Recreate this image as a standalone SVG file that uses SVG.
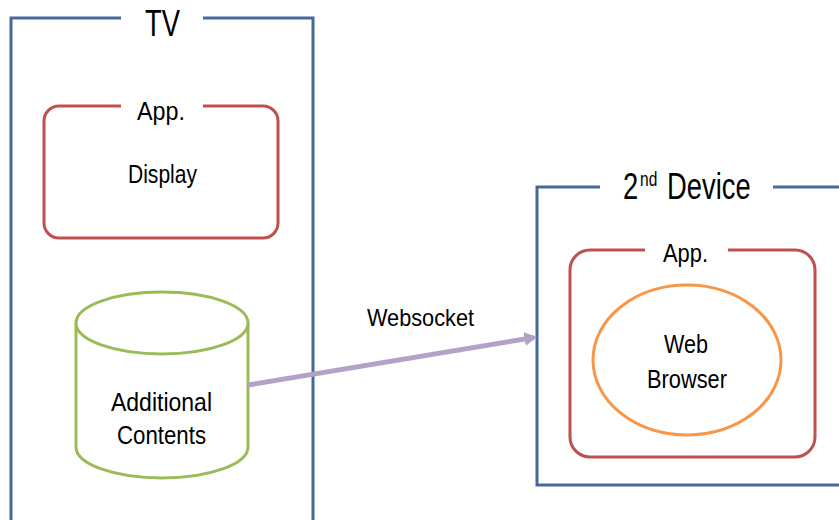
<svg xmlns="http://www.w3.org/2000/svg" width="839" height="520" viewBox="0 0 839 520">
<style>
.dev{fill:none;stroke:#45699B;stroke-width:3}
.app{fill:none;stroke:#C0504D;stroke-width:3}
.t{font-family:"Liberation Sans",Arial,sans-serif;fill:#000}
.big{font-size:37px}
.mid{font-size:25px}
</style>
<defs>
<marker id="ah" markerWidth="3" markerHeight="3" refX="1.9" refY="1.4" orient="auto" markerUnits="strokeWidth">
<path d="M0,0 L2.5,1.4 L0,2.8 Z" fill="#B3A2C7"/>
</marker>
</defs>
<rect width="839" height="520" fill="#fff"/>
<g id="tv">
<path class="dev" d="M121,18 H11 V520 M203,18 H313 V520"/>
<text class="t big" x="145" y="36" textLength="35" lengthAdjust="spacingAndGlyphs">TV</text>
</g>
<g id="tv-app">
<path class="app" d="M121,106 H59 A15,15 0 0 0 44,121 V223 A15,15 0 0 0 59,238 H263 A15,15 0 0 0 278,223 V121 A15,15 0 0 0 263,106 H203"/>
<text class="t mid" x="137" y="120" textLength="48" lengthAdjust="spacingAndGlyphs">App.</text>
<text class="t mid" x="128" y="183" textLength="69" lengthAdjust="spacingAndGlyphs">Display</text>
</g>
<g id="contents">
<path d="M76,323 V447 A86,31 0 0 0 248,447 V323" fill="#fff" stroke="#9BBB59" stroke-width="3"/>
<ellipse cx="162" cy="323" rx="86" ry="31" fill="#fff" stroke="#9BBB59" stroke-width="3"/>
<text class="t mid" x="111" y="411" textLength="101" lengthAdjust="spacingAndGlyphs">Additional</text>
<text class="t mid" x="117" y="444" textLength="89" lengthAdjust="spacingAndGlyphs">Contents</text>
</g>
<g id="device">
<path class="dev" d="M600,187 H537 V485 H839 M773,187 H839"/>
<text class="t big" transform="translate(623,199) scale(0.74,1)"><tspan x="0" y="0">2</tspan><tspan x="23" y="-13" font-size="21">nd</tspan><tspan x="59.5" y="0">Device</tspan></text>
</g>
<g id="device-app">
<path class="app" d="M645,250 H590 A20,20 0 0 0 570,270 V437 A20,20 0 0 0 590,457 H795 A20,20 0 0 0 815,437 V270 A20,20 0 0 0 795,250 H728"/>
<text class="t mid" x="663" y="262" textLength="45" lengthAdjust="spacingAndGlyphs">App.</text>
</g>
<g id="browser">
<ellipse cx="687" cy="360" rx="94" ry="75" fill="none" stroke="#F79646" stroke-width="3"/>
<text class="t mid" x="664" y="353" textLength="44" lengthAdjust="spacingAndGlyphs">Web</text>
<text class="t mid" x="647" y="388" textLength="80" lengthAdjust="spacingAndGlyphs">Browser</text>
</g>
<g id="connectors">
<line x1="248" y1="385" x2="534" y2="337.5" stroke="#B3A2C7" stroke-width="5" marker-end="url(#ah)"/>
<text class="t" font-size="24" x="367" y="326" textLength="107" lengthAdjust="spacingAndGlyphs">Websocket</text>
</g>
</svg>
